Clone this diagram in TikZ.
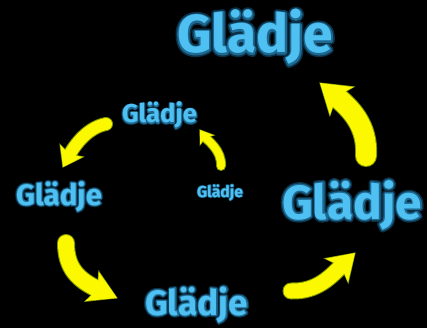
\documentclass[tikz,border=0pt]{standalone}
\usepackage{fontspec}
\usepackage{graphicx}
\setmainfont{Fira Sans}
\usetikzlibrary{arrows.meta}
\definecolor{txt}{RGB}{78,192,242}
\definecolor{glowA}{RGB}{30,105,145}
\definecolor{glowB}{RGB}{12,48,70}
\definecolor{yel}{RGB}{252,248,0}
\definecolor{edgec}{RGB}{125,148,0}
\newcommand\gword{Glädje}
% soft halo: an outer dark ring and an inner teal ring, both as stroked glyphs, then the word
\newcommand\gl[1]{\resizebox{#1}{!}{\fontsize{20}{24}\selectfont\bfseries%
\rlap{\color{glowB}\special{pdf:literal direct 2 Tr 2.4 w 1 j 0.047 0.188 0.275 RG}\gword\special{pdf:literal direct 0 Tr 0.4 w}}%
\rlap{\color{glowA}\special{pdf:literal direct 2 Tr 1.2 w 1 j 0.118 0.412 0.569 RG}\gword\special{pdf:literal direct 0 Tr 0.4 w}}%
\color{txt}\gword}}
\tikzset{
  word/.style={inner sep=0pt, outer sep=0pt, anchor=base west},
  yshaft/.style={draw=yel, line cap=round},
  eshaft/.style={draw=edgec, line cap=round, shorten >=-1pt}
}
\begin{document}
\begin{tikzpicture}[x=1pt,y=-1pt]
\fill[black] (0,0) rectangle (427,328);
\useasboundingbox (0,0) rectangle (427,328);

% words
\node[word] (w1) at (197,197) {\gl{46pt}};
\node[word] (w2) at (122,123) {\gl{75pt}};
\node[word] (w3) at (16,205) {\gl{86pt}};
\node[word] (w4) at (145,315) {\gl{103pt}};
\node[word] (w5) at (282,219) {\gl{140pt}};
\node[word] (w6) at (177,53) {\gl{156pt}};

% arrow end points
\coordinate (a5s) at (221,166); \coordinate (a5e) at (200,130);
\coordinate (a4s) at (106,124); \coordinate (a4e) at (63,167);
\coordinate (a3s) at (66,243);  \coordinate (a3e) at (117,298);
\coordinate (a2s) at (291,291); \coordinate (a2e) at (355,253);
\coordinate (a1s) at (366,156); \coordinate (a1e) at (320,83);

% arrow 5 (small -> middle)
\draw[eshaft, line width=10pt, -{Stealth[length=14pt, width=19pt, inset=3pt, fill=edgec]}] (a5s) .. controls (222,150) and (207,140) .. (a5e);
\draw[yshaft, line width=8pt, -{Stealth[length=12pt, width=16pt, inset=3pt, fill=yel]}] (a5s) .. controls (222,150) and (207,140) .. (a5e);
% arrow 4
\draw[eshaft, line width=14pt, -{Stealth[length=20pt, width=28pt, inset=4pt, fill=edgec]}] (a4s) .. controls (85,128) and (72,150) .. (a4e);
\draw[yshaft, line width=12pt, -{Stealth[length=18pt, width=25pt, inset=4pt, fill=yel]}] (a4s) .. controls (85,128) and (72,150) .. (a4e);
% arrow 3
\draw[eshaft, line width=18pt, -{Stealth[length=29pt, width=34pt, inset=6pt, fill=edgec]}] (a3s) .. controls (66,268) and (78,280) .. (a3e);
\draw[yshaft, line width=16pt, -{Stealth[length=27pt, width=31pt, inset=6pt, fill=yel]}] (a3s) .. controls (66,268) and (78,280) .. (a3e);
% arrow 2
\draw[eshaft, line width=17pt, -{Stealth[length=27pt, width=35pt, inset=6pt, fill=edgec]}] (a2s) .. controls (318,292) and (332,275) .. (a2e);
\draw[yshaft, line width=15pt, -{Stealth[length=25pt, width=32pt, inset=6pt, fill=yel]}] (a2s) .. controls (318,292) and (332,275) .. (a2e);
% arrow 1
\draw[eshaft, line width=22pt, -{Stealth[length=30pt, width=39pt, inset=7pt, fill=edgec]}] (a1s) .. controls (368,125) and (350,108) .. (a1e);
\draw[yshaft, line width=20pt, -{Stealth[length=28pt, width=36pt, inset=7pt, fill=yel]}] (a1s) .. controls (368,125) and (350,108) .. (a1e);
\end{tikzpicture}
\end{document}
